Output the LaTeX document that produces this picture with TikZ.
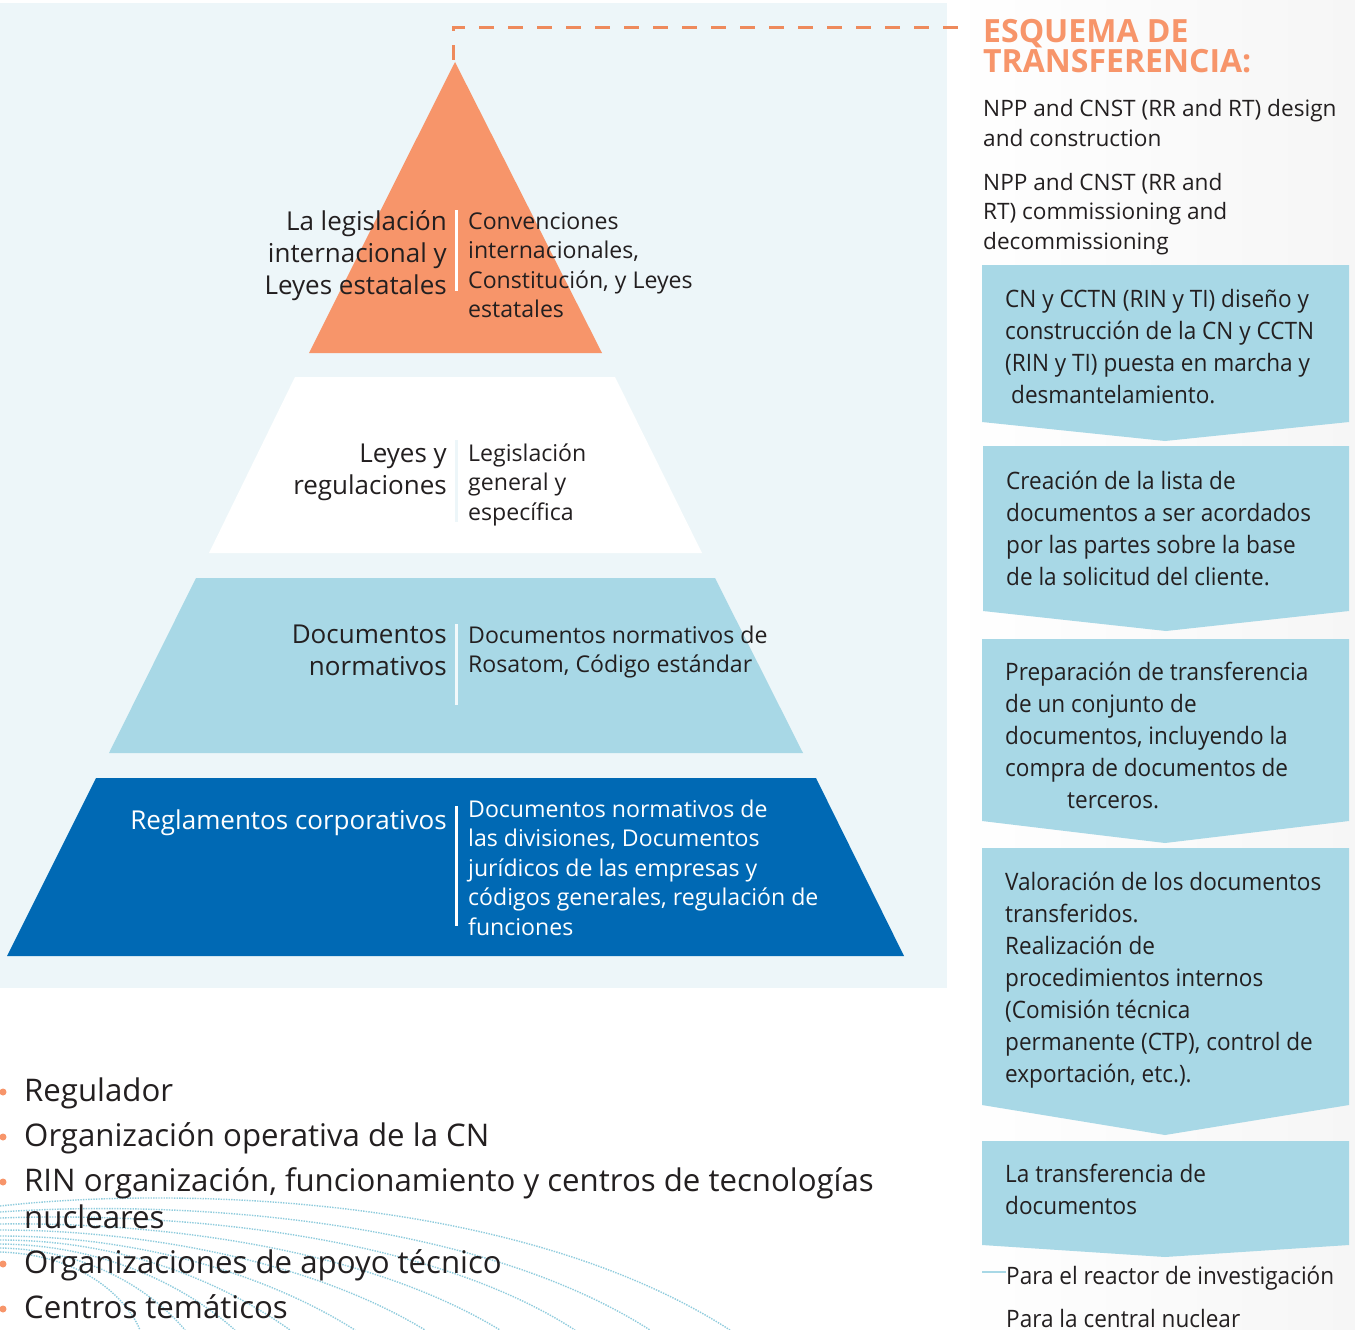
\documentclass[tikz,border=0pt]{standalone}
\usepackage{fontspec}
\setmainfont{Open Sans}
\newfontfamily\narrowsans{Open Sans}[FakeStretch=0.94]
\definecolor{panel}{HTML}{EDF6F9}
\definecolor{peach}{HTML}{F7956A}
\definecolor{dashpeach}{HTML}{EE8A5C}
\definecolor{sky}{HTML}{A8D8E6}
\definecolor{navy}{HTML}{0069B4}
\definecolor{ink}{HTML}{231F20}
\definecolor{dotsky}{HTML}{8FCCDD}
\definecolor{sidegray}{HTML}{F6F6F6}
\begin{document}
\begin{tikzpicture}[x=1pt,y=-1pt,
  leftlbl/.style={inner sep=0, anchor=base east, text=ink, font=\fontsize{26}{32}\selectfont},
  rightlbl/.style={inner sep=0, anchor=base west, text=ink, font=\fontsize{23.1}{29.5}\selectfont},
  boxtxt/.style={inner sep=0, anchor=base west, text=ink, font=\narrowsans\fontsize{24}{32}\selectfont},
  entxt/.style={inner sep=0, anchor=base west, text=ink, font=\fontsize{22.6}{29.5}\selectfont},
  bullettxt/.style={inner sep=0, anchor=base west, text=ink, font=\fontsize{31.2}{37}\selectfont},
  sepline/.style={line width=3pt},
  stepshape/.style={fill=sky},
  dotcurve/.style={dotsky, line width=1.4pt, dash pattern=on 1.4pt off 1.2pt},
  bulletdot/.style={fill=peach}]
\useasboundingbox (0,0) rectangle (1355,1330);
\fill[white] (0,0) rectangle (1355,1330);
% side panel and pyramid panel
\shade[left color=white, right color=sidegray] (947,0) rectangle (1355,1330);
\fill[panel] (0,3) rectangle (947,988);

% pyramid layers
\fill[peach] (455,62) -- (602,353) -- (309,353) -- cycle;
\fill[white] (295,377) -- (615,377) -- (702,553) -- (209,553) -- cycle;
\fill[sky] (196,578) -- (715,578) -- (803,753) -- (109,753) -- cycle;
\fill[navy] (96,778) -- (816,778) -- (904,956) -- (7,956) -- cycle;

% separators
\draw[sepline, white] (456,210) -- (456,291);
\draw[sepline, panel] (456,440) -- (456,522);
\draw[sepline, white!85!sky] (456,624) -- (456,705);
\draw[sepline, white] (456,806) -- (456,926);

% dashed leader to the heading
\coordinate (apex) at (453,60);
\coordinate (dashend) at (962,28);
\draw[dashpeach, line width=3pt, dash pattern=on 15pt off 14pt] (apex) |- (dashend);

% layer texts
\node[leftlbl] (l1) at (447,230) {\parbox[t]{400pt}{\raggedleft La legislación\\internacional y\\Leyes estatales}};
\node[rightlbl] (r1) at (468,229) {\parbox[t]{400pt}{\raggedright Convenciones\\internacionales,\\Constitución, y Leyes\\estatales}};
\node[leftlbl] (l2) at (447,462) {\parbox[t]{400pt}{\raggedleft Leyes y\\regulaciones}};
\node[rightlbl] (r2) at (468,461) {\parbox[t]{400pt}{\raggedright Legislación\\general y\\específica}};
\node[leftlbl] (l3) at (447,643) {\parbox[t]{400pt}{\raggedleft Documentos\\normativos}};
\node[rightlbl] (r3) at (468,643) {\parbox[t]{400pt}{\raggedright Documentos normativos de\\Rosatom, Código estándar}};
\node[leftlbl, text=white] (l4) at (447,829) {\parbox[t]{400pt}{\raggedleft Reglamentos corporativos}};
\node[rightlbl, text=white] (r4) at (468,817) {\parbox[t]{420pt}{\raggedright Documentos normativos de\\las divisiones, Documentos\\jurídicos de las empresas y\\códigos generales, regulación de\\funciones}};

% heading and intro
\node[inner sep=0, anchor=base west, text=peach, font=\bfseries\fontsize{32}{28}\selectfont] (title) at (983,43) {\parbox[t]{400pt}{\raggedright ESQUEMA DE\\TRANSFERENCIA:}};
\node[entxt] (en1) at (983,117) {\parbox[t]{400pt}{\raggedright NPP and CNST (RR and RT) design\\and construction}};
\node[entxt] (en2) at (983,190) {\parbox[t]{400pt}{\raggedright NPP and CNST (RR and\\RT) commissioning and\\decommissioning}};

% process steps
\fill[stepshape] (982,265) -- (1349,265) -- (1349,422) -- (1165,441) -- (982,422) -- cycle;
\fill[stepshape] (983,446) -- (1349,446) -- (1349,611) -- (1166,631) -- (983,611) -- cycle;
\fill[stepshape] (982,639) -- (1349,639) -- (1349,821) -- (1165,843) -- (982,821) -- cycle;
\fill[stepshape] (982,848) -- (1349,848) -- (1349,1105) -- (1165,1135) -- (982,1105) -- cycle;
\fill[stepshape] (982,1141) -- (1349,1141) -- (1349,1245) -- (1165,1257) -- (982,1245) -- cycle;

\node[boxtxt] (s1) at (1005,307) {\parbox[t]{400pt}{\raggedright CN y CCTN (RIN y TI) diseño y\\construcción de la CN y CCTN\\(RIN y TI) puesta en marcha y\\\hspace*{6pt}desmantelamiento.}};
\node[boxtxt] (s2) at (1006,489) {\parbox[t]{400pt}{\raggedright Creación de la lista de\\documentos a ser acordados\\por las partes sobre la base\\de la solicitud del cliente.}};
\node[boxtxt] (s3) at (1005,680) {\parbox[t]{400pt}{\raggedright Preparación de transferencia\\de un conjunto de\\documentos, incluyendo la\\compra de documentos de\\\hspace*{62pt}terceros.}};
\node[boxtxt] (s4) at (1005,890) {\parbox[t]{400pt}{\raggedright Valoración de los documentos\\transferidos.\\Realización de\\procedimientos internos\\(Comisión técnica\\permanente (CTP), control de\\exportación, etc.).}};
\node[boxtxt] (s5) at (1005,1182) {\parbox[t]{400pt}{\raggedright La transferencia de\\documentos}};

% outcomes
\coordinate (tickstart) at (982,1272);
\node[boxtxt] (o1) at (1006,1284) {Para el reactor de investigación};
\node[boxtxt] (o2) at (1006,1327) {Para la central nuclear};
\draw[sky, line width=2pt] (tickstart) -- (o1.base west |- tickstart);

% decorative dotted fan
\begin{scope}
\clip (0,988) rectangle (947,1330);
\draw[dotcurve] (0,1206) .. controls (180,1186) and (520,1195) .. (730,1330);
\draw[dotcurve] (0,1212) .. controls (170,1200) and (470,1215) .. (650,1330);
\draw[dotcurve] (0,1218) .. controls (160,1212) and (420,1230) .. (575,1330);
\draw[dotcurve] (0,1224) .. controls (150,1222) and (360,1245) .. (500,1330);
\draw[dotcurve] (0,1230) .. controls (140,1230) and (310,1260) .. (425,1330);
\draw[dotcurve] (0,1236) .. controls (130,1236) and (260,1270) .. (355,1330);
\draw[dotcurve] (0,1240) .. controls (120,1240) and (220,1280) .. (290,1330);
\draw[dotcurve] (0,1244) .. controls (110,1245) and (190,1290) .. (235,1330);
\draw[dotcurve] (0,1248) .. controls (100,1250) and (160,1300) .. (185,1330);
\draw[dotcurve] (0,1252) .. controls (90,1255) and (130,1305) .. (140,1330);
\end{scope}

% participants list
\fill[bulletdot] (3,1092) circle (3.5);
\fill[bulletdot] (3,1137) circle (3.5);
\fill[bulletdot] (3,1182) circle (3.5);
\fill[bulletdot] (3,1264) circle (3.5);
\fill[bulletdot] (3,1309) circle (3.5);
\node[bullettxt] (b1) at (24,1101) {Regulador};
\node[bullettxt] (b2) at (24,1146) {Organización operativa de la CN};
\node[bullettxt] (b3) at (24,1191) {\parbox[t]{900pt}{\raggedright RIN organización, funcionamiento y centros de tecnologías\\nucleares}};
\node[bullettxt] (b4) at (24,1273) {Organizaciones de apoyo técnico};
\node[bullettxt] (b5) at (24,1318) {Centros temáticos};
\end{tikzpicture}
\end{document}
